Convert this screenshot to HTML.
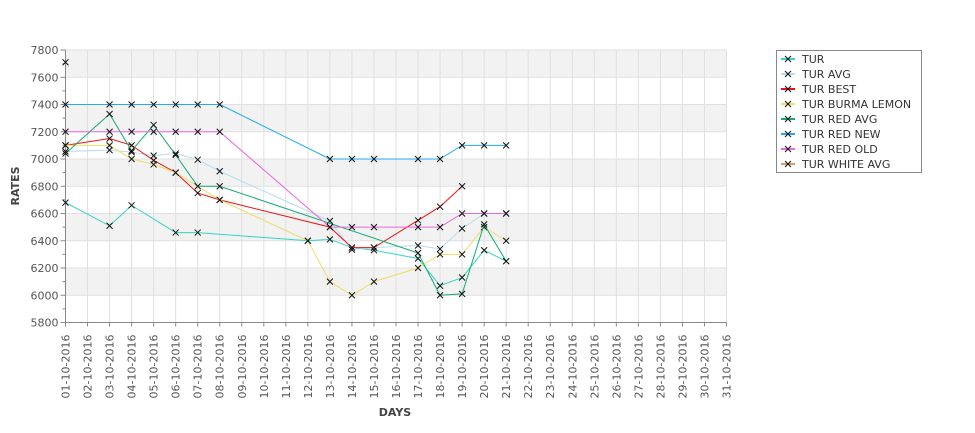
<!DOCTYPE html>
<html><head><meta charset="utf-8"><style>
body{margin:0;background:#fff;font-family:"DejaVu Sans","Liberation Sans",sans-serif}
svg text{font-family:"DejaVu Sans","Liberation Sans",sans-serif}
</style></head><body>
<svg id="c" width="975" height="429" xmlns="http://www.w3.org/2000/svg"></svg>
<script>
const days=[];for(let d=1;d<=31;d++)days.push((d<10?'0':'')+d+'-10-2016');
const yTicks=[5800,6000,6200,6400,6600,6800,7000,7200,7400,7600,7800];
const seriesNames=["TUR","TUR AVG","TUR BEST","TUR BURMA LEMON","TUR RED AVG","TUR RED NEW","TUR RED OLD","TUR WHITE AVG"];
const seriesColors=["#33d6c4","#b8dcef","#ee1111","#eedd66","#11aa77","#22aaee","#ee66dd","#dd9966"];
const turDays=[1,3,4,6,7,12,13,14,15,17,18,19,20,21];
const turVals=[6680,6510,6660,6460,6460,6400,6410,6350,6330,6270,6070,6130,6330,6250];
const avgDays=[1,3,4,5,6,7,8,13,14,15,17,18,19,20,21];
const avgVals=[7055,7065,7050,7025,7040,6995,6910,6545,6335,6350,6365,6340,6490,6600,6600];
const bestDays=[1,3,4,5,6,7,8,13,14,15,17,18,19];
const bestVals=[7100,7150,7100,6990,6900,6750,6700,6500,6350,6350,6550,6650,6800];
const burmaDays=[1,3,4,5,6,8,12,13,14,15,17,18,19,20,21];
const burmaVals=[7100,7100,7000,6960,6900,6700,6400,6100,6000,6100,6200,6300,6300,6500,6400];
const redAvgDays=[1,3,4,5,6,7,8,17,18,19,20,21];
const redAvgVals=[7040,7330,7060,7250,7030,6800,6800,6310,6000,6010,6520,6250];
const redNewDays=[1,3,4,5,6,7,8,13,14,15,17,18,19,20,21];
const redNewVals=[7400,7400,7400,7400,7400,7400,7400,7000,7000,7000,7000,7000,7100,7100,7100];
const redOldDays=[1,3,4,5,6,7,8,13,14,15,17,18,19,20,21];
const redOldVals=[7200,7200,7200,7200,7200,7200,7200,6500,6500,6500,6500,6500,6600,6600,6600];
const whiteDays=[1];
const whiteVals=[7710];
const seriesDays=[turDays,avgDays,bestDays,burmaDays,redAvgDays,redNewDays,redOldDays,whiteDays];
const seriesVals=[turVals,avgVals,bestVals,burmaVals,redAvgVals,redNewVals,redOldVals,whiteVals];

const svg=document.getElementById('c');const NS='http://www.w3.org/2000/svg';
const L=65.5,R=726.5,T=50,B=322.5;
const x=d=>L+(d-1)*(R-L)/30;
const y=v=>B-(v-5800)*(B-T)/2000;
function el(t,a,p){const e=document.createElementNS(NS,t);for(const k in a)e.setAttribute(k,a[k]);(p||svg).appendChild(e);return e;}
// bands
for(let i=0;i<yTicks.length-1;i++){if(i%2===1){const b=el('rect',{x:L,y:y(yTicks[i+1]),width:R-L,height:y(yTicks[i])-y(yTicks[i+1]),fill:'#f2f2f2'});

}}
// grid
for(let d=1;d<=31;d++){const g=el('line',{x1:x(d),x2:x(d),y1:T,y2:B,stroke:'#e0e0e0'});

}
yTicks.forEach(v=>{const g=el('line',{x1:L,x2:R,y1:y(v),y2:y(v),stroke:'#e0e0e0'});

});
// axes
el('line',{x1:L,x2:L,y1:T,y2:B,stroke:'#888'});el('line',{x1:L,x2:R,y1:B,y2:B,stroke:'#888'});
for(let v=5800;v<=7800;v+=100){el('line',{x1:L-(v%200?3:5),x2:L,y1:y(v),y2:y(v),stroke:'#888'});}
yTicks.forEach(v=>{const t=el('text',{x:L-7,y:y(v)+4,'text-anchor':'end','font-size':'11',fill:'#555'});t.textContent=v;

});
days.forEach((s,i)=>{const xx=x(i+1);el('line',{x1:xx,x2:xx,y1:B,y2:B+4,stroke:'#888'});
const t=el('text',{transform:`translate(${xx+4},${B+12}) rotate(-90)`,'text-anchor':'end','font-size':'11',fill:'#555'});t.textContent=s;

});
const yt=el('text',{transform:`translate(19,186) rotate(-90)`,'text-anchor':'middle','font-size':'11','font-weight':'bold',fill:'#444'});yt.textContent='RATES';


const xt=el('text',{x:395,y:416,'text-anchor':'middle','font-size':'11','font-weight':'bold',fill:'#444'});xt.textContent='DAYS';


function cross(cx,cy,p){el('path',{d:`M${cx-3},${cy-3}L${cx+3},${cy+3}M${cx-3},${cy+3}L${cx+3},${cy-3}`,stroke:'#111','stroke-width':1},p);}
seriesNames.forEach((n,i)=>{const g=el('g',{});


const pts=seriesDays[i].map((d,j)=>x(d)+','+y(seriesVals[i][j])).join(' ');
el('polyline',{points:pts,fill:'none',stroke:seriesColors[i],'stroke-width':1},g);
seriesDays[i].forEach((d,j)=>cross(x(d),y(seriesVals[i][j]),g));});
// legend
const lg=el('g',{});


el('rect',{x:776.5,y:50.5,width:145,height:122,fill:'#fff',stroke:'#888'},lg);
seriesNames.forEach((n,i)=>{const yy=59+i*15;const e=el('g',{},lg);


el('line',{x1:781,x2:795,y1:yy,y2:yy,stroke:seriesColors[i],'stroke-width':2},e);cross(788,yy,e);
const t=el('text',{x:802,y:yy+4,'font-size':'11',fill:'#333'},e);t.textContent=n;});
</script>
</body></html>
